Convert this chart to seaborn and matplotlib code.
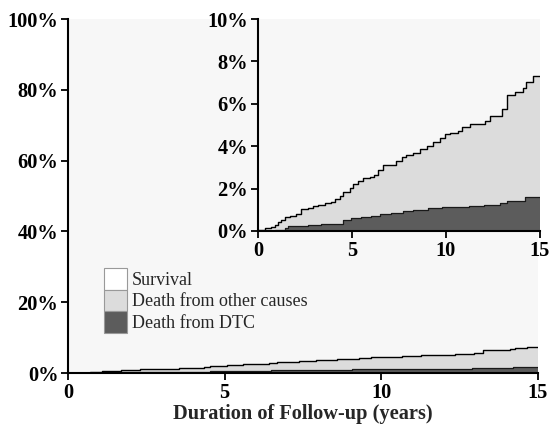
import matplotlib
matplotlib.use("Agg")
import matplotlib.pyplot as plt
import matplotlib.patches as mpatches
import pandas as pd
import seaborn as sns

# cumulative incidence, all deaths (%), step times in years
years_all = [0, 0.36, 0.7, 0.9, 1.07, 1.25, 1.42, 1.7, 2.04, 2.3,
             2.66, 2.93, 3.2, 3.55, 3.9, 4.1, 4.35, 4.53, 4.88, 5.06,
             5.33, 5.6, 5.95, 6.2, 6.4, 6.66, 7.37, 7.64, 7.9, 8.26,
             8.6, 8.97, 9.3, 9.68, 9.95, 10.2, 10.66, 10.83, 11.28, 12.08,
             12.34, 12.97, 13.23, 13.68, 14.12, 14.26, 14.65, 15]
death_all = [0.06, 0.13, 0.19, 0.28, 0.44, 0.54, 0.66, 0.73, 0.82, 1.04,
             1.07, 1.17, 1.23, 1.33, 1.36, 1.49, 1.67, 1.86, 2.02, 2.21,
             2.34, 2.5, 2.56, 2.65, 2.88, 3.13, 3.32, 3.48, 3.6, 3.7,
             3.85, 4.01, 4.2, 4.39, 4.58, 4.64, 4.7, 4.9, 5.06, 5.18,
             5.43, 5.75, 6.41, 6.57, 6.73, 7.05, 7.3, 7.3]

# cumulative incidence, death from DTC (%)
years_dtc = [0, 0.9, 1.42, 1.6, 2.13, 2.66, 3.37, 4.35, 4.53, 4.97,
             5.5, 6.04, 6.48, 7.1, 7.73, 8.26, 9.06, 9.77, 10.4, 11.2,
             12.0, 12.88, 13.23, 14.2, 15]
death_dtc = [0.0, 0.03, 0.13, 0.22, 0.25, 0.28, 0.32, 0.35, 0.54, 0.6,
             0.66, 0.7, 0.82, 0.85, 0.92, 0.98, 1.07, 1.11, 1.14, 1.17,
             1.23, 1.33, 1.42, 1.58, 1.58]

legend_labels = ["Survival", "Death from other causes", "Death from DTC"]

BG = "#f7f7f7"
LIGHT = "#dcdcdc"
DARK = "#5c5c5c"
FS = 14.7

df_all = pd.DataFrame({"years": years_all, "pct": death_all})
df_dtc = pd.DataFrame({"years": years_dtc, "pct": death_dtc})

sns.set_style("ticks")
plt.rcParams["font.family"] = ["Liberation Serif", "DejaVu Serif"]
plt.rcParams["axes.linewidth"] = 1.5


def draw(ax, ymax, step):
    ax.set_facecolor(BG)
    ax.fill_between(df_all["years"], 0, df_all["pct"], step="post", color=LIGHT, lw=0)
    ax.fill_between(df_dtc["years"], 0, df_dtc["pct"], step="post", color=DARK, lw=0)
    sns.lineplot(data=df_all, x="years", y="pct", drawstyle="steps-post",
                 color="black", lw=1.0, ax=ax)
    sns.lineplot(data=df_dtc, x="years", y="pct", drawstyle="steps-post",
                 color="#1a1a1a", lw=0.9, ax=ax)
    ax.set_xlim(0, 15)
    ax.set_ylim(0, ymax)
    ax.set_xticks([0, 5, 10, 15])
    ax.set_yticks(range(0, ymax + 1, step))
    ax.set_yticklabels([f"{v}%" for v in range(0, ymax + 1, step)])
    for lab in ax.get_xticklabels() + ax.get_yticklabels():
        lab.set_fontweight("bold")
        lab.set_fontsize(FS)
    ax.tick_params(length=5, width=1.3, pad=2, colors="black")
    ax.set_xlabel("")
    ax.set_ylabel("")
    for s in ["top", "right"]:
        ax.spines[s].set_visible(False)
    for s in ["left", "bottom"]:
        ax.spines[s].set_color("black")


fig = plt.figure(figsize=(5.51, 4.28), dpi=100)
ax = fig.add_axes([0.1234, 0.1285, 0.8530, 0.8271])
draw(ax, 100, 20)
ax.set_xlabel("Duration of Follow-up (years)", fontsize=FS, fontweight="bold", labelpad=1)

handles = [mpatches.Patch(facecolor=c, edgecolor="#999999", lw=0.8)
           for c in ["white", LIGHT, DARK]]
fig.legend(handles, legend_labels, loc="upper left",
           bbox_to_anchor=(104 / 551, 1 - 268 / 428), frameon=False,
           fontsize=13, handlelength=1.27, handleheight=1.47,
           handletextpad=0.28, labelspacing=0.0, borderpad=0, borderaxespad=0)

inset = fig.add_axes([0.468, 0.4603, 0.512, 0.4953])
draw(inset, 10, 2)

fig.savefig("out.png", dpi=100, facecolor="white")
